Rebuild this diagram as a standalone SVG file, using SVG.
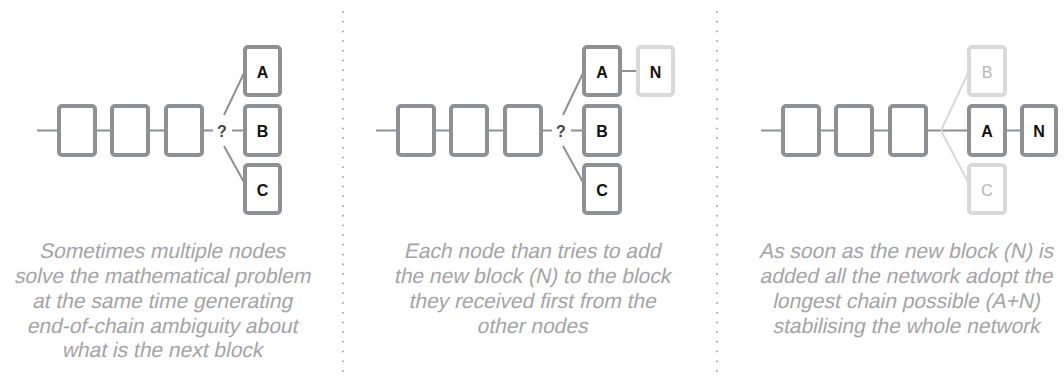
<svg xmlns="http://www.w3.org/2000/svg" width="1064" height="376" viewBox="0 0 1064 376">
<style>
.blk{fill:#fff;stroke:#8e9096;stroke-width:4}
.lt{fill:#fff;stroke:#d9d9d9;stroke-width:4}
.ln{stroke:#8e9096;stroke-width:2;fill:none}
.lln{stroke:#d9d9d9;stroke-width:2;fill:none}
.lbl{font-family:"Liberation Sans",Arial,sans-serif;font-weight:bold;font-size:16px;fill:#111;text-anchor:middle}
.llbl{font-family:"Liberation Sans",Arial,sans-serif;font-size:16px;fill:#b5b5b5;text-anchor:middle}
.q{font-family:"Liberation Sans",Arial,sans-serif;font-weight:bold;font-size:16px;fill:#444;text-anchor:middle}
.cap{font-family:"Liberation Sans",Arial,sans-serif;font-size:21px;fill:#a4a4a6;text-anchor:middle}
.div{stroke:#a8a8a8;stroke-width:2;stroke-linecap:round;stroke-dasharray:0 9.7}
</style>
<rect width="1064" height="376" fill="#fff"/>
<g id="dividers">
<line class="div" x1="343" y1="12" x2="343" y2="376"/>
<line class="div" x1="717" y1="12" x2="717" y2="376"/>
</g>
<g id="connectors">
<line class="ln" x1="37" y1="130.5" x2="59" y2="130.5"/>
<line class="ln" x1="95" y1="130.5" x2="112" y2="130.5"/>
<line class="ln" x1="148" y1="130.5" x2="166" y2="130.5"/>
<line class="ln" x1="202" y1="130.5" x2="213" y2="130.5"/>
<line class="ln" x1="232" y1="130.5" x2="245" y2="130.5"/>
<line class="ln" x1="224" y1="115" x2="245" y2="71"/>
<line class="ln" x1="224" y1="146" x2="245" y2="184"/>
<line class="ln" x1="376" y1="130.5" x2="398" y2="130.5"/>
<line class="ln" x1="434" y1="130.5" x2="451" y2="130.5"/>
<line class="ln" x1="487" y1="130.5" x2="505" y2="130.5"/>
<line class="ln" x1="541" y1="130.5" x2="552" y2="130.5"/>
<line class="ln" x1="571" y1="130.5" x2="584" y2="130.5"/>
<line class="ln" x1="563" y1="115" x2="584" y2="71"/>
<line class="ln" x1="563" y1="146" x2="584" y2="184"/>
<line class="ln" x1="620" y1="71" x2="638" y2="71"/>
<line class="ln" x1="761" y1="130.5" x2="783" y2="130.5"/>
<line class="ln" x1="819" y1="130.5" x2="836" y2="130.5"/>
<line class="ln" x1="872" y1="130.5" x2="890" y2="130.5"/>
<line class="ln" x1="926" y1="130.5" x2="969" y2="130.5"/>
<line class="lln" x1="941" y1="130.5" x2="969" y2="71"/>
<line class="lln" x1="941" y1="130.5" x2="969" y2="184"/>
<line class="ln" x1="1005" y1="130.5" x2="1022" y2="130.5"/>
</g>
<g id="p1">
<g id="p1-b1"><rect class="blk" x="59" y="106" width="36" height="49" rx="3"/></g>
<g id="p1-b2"><rect class="blk" x="112" y="106" width="36" height="49" rx="3"/></g>
<g id="p1-b3"><rect class="blk" x="166" y="106" width="36" height="49" rx="3"/></g>
<g id="p1-q"><text class="q" x="222" y="136.5">?</text></g>
<g id="p1-A"><rect class="blk" x="245" y="47" width="35" height="48" rx="3"/><text class="lbl" x="262.5" y="78">A</text></g>
<g id="p1-B"><rect class="blk" x="245" y="106" width="35" height="49" rx="3"/><text class="lbl" x="262.5" y="136.5">B</text></g>
<g id="p1-C"><rect class="blk" x="245" y="165" width="35" height="48" rx="3"/><text class="lbl" x="262.5" y="195.5">C</text></g>
<text class="cap" transform="translate(162 258) skewX(-12)">Sometimes multiple nodes</text>
<text class="cap" transform="translate(162 283) skewX(-12)">solve the mathematical problem</text>
<text class="cap" transform="translate(162 308) skewX(-12)">at the same time generating</text>
<text class="cap" transform="translate(162 332.5) skewX(-12)">end-of-chain ambiguity about</text>
<text class="cap" transform="translate(162 357) skewX(-12)">what is the next block</text>
</g>
<g id="p2">
<g id="p2-b1"><rect class="blk" x="398" y="106" width="36" height="49" rx="3"/></g>
<g id="p2-b2"><rect class="blk" x="451" y="106" width="36" height="49" rx="3"/></g>
<g id="p2-b3"><rect class="blk" x="505" y="106" width="36" height="49" rx="3"/></g>
<g id="p2-q"><text class="q" x="561" y="136.5">?</text></g>
<g id="p2-A"><rect class="blk" x="584" y="47" width="36" height="48" rx="3"/><text class="lbl" x="602" y="78">A</text></g>
<g id="p2-N"><rect class="lt" x="638" y="47" width="35" height="48" rx="3"/><text class="lbl" x="655.5" y="78">N</text></g>
<g id="p2-B"><rect class="blk" x="584" y="106" width="36" height="49" rx="3"/><text class="lbl" x="602" y="136.5">B</text></g>
<g id="p2-C"><rect class="blk" x="584" y="165" width="36" height="48" rx="3"/><text class="lbl" x="602" y="195.5">C</text></g>
<text class="cap" transform="translate(532 258) skewX(-12)">Each node than tries to add</text>
<text class="cap" transform="translate(532 283) skewX(-12)">the new block (N) to the block</text>
<text class="cap" transform="translate(532 308) skewX(-12)">they received first from the</text>
<text class="cap" transform="translate(532 332.5) skewX(-12)">other nodes</text>
</g>
<g id="p3">
<g id="p3-b1"><rect class="blk" x="783" y="106" width="36" height="49" rx="3"/></g>
<g id="p3-b2"><rect class="blk" x="836" y="106" width="36" height="49" rx="3"/></g>
<g id="p3-b3"><rect class="blk" x="890" y="106" width="36" height="49" rx="3"/></g>
<g id="p3-B"><rect class="lt" x="969" y="47" width="36" height="48" rx="3"/><text class="llbl" x="987" y="78">B</text></g>
<g id="p3-A"><rect class="blk" x="969" y="106" width="36" height="49" rx="3"/><text class="lbl" x="987" y="136.5">A</text></g>
<g id="p3-C"><rect class="lt" x="969" y="165" width="36" height="48" rx="3"/><text class="llbl" x="987" y="195.5">C</text></g>
<g id="p3-N"><rect class="blk" x="1022" y="106" width="34" height="49" rx="3"/><text class="lbl" x="1039" y="136.5">N</text></g>
<text class="cap" transform="translate(906 258) skewX(-12)">As soon as the new block (N) is</text>
<text class="cap" transform="translate(906 283) skewX(-12)">added all the network adopt the</text>
<text class="cap" transform="translate(906 308) skewX(-12)">longest chain possible (A+N)</text>
<text class="cap" transform="translate(906 332.5) skewX(-12)">stabilising the whole network</text>
</g>
</svg>
